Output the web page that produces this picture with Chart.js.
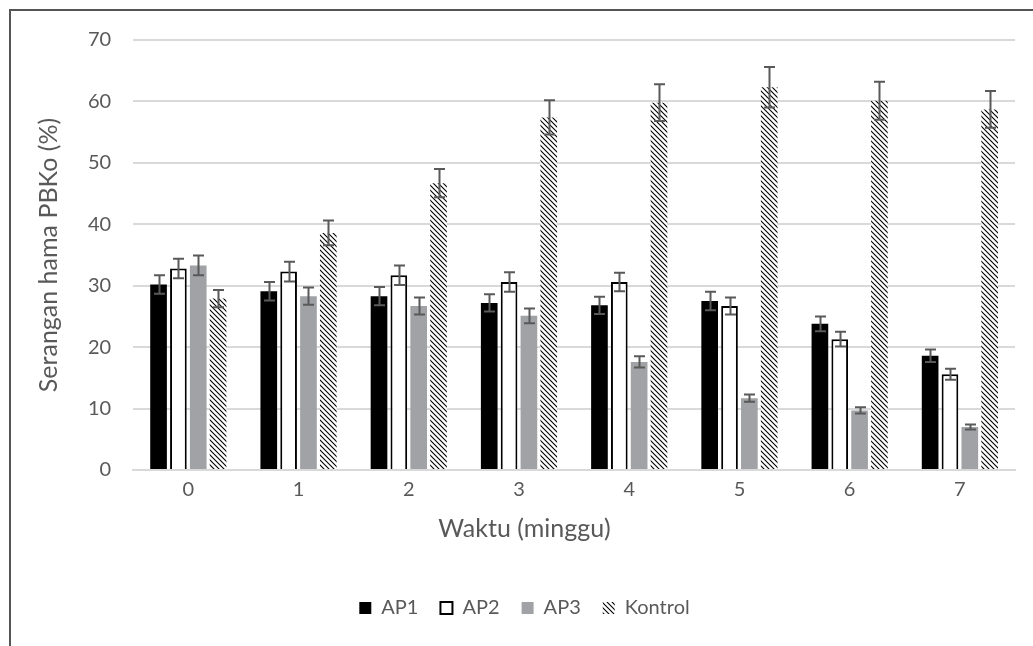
<!DOCTYPE html>
<html>
<head>
<meta charset="utf-8">
<script src="https://cdn.jsdelivr.net/npm/chart.js@4"></script>
<style>
  body { margin: 0; background: #fff; }
  #wrap { position: relative; width: 1033px; height: 646px; }
  #frame {
    position: absolute; left: 9px; top: 9px; right: 0; bottom: 0;
    border-top: 2px solid #555; border-left: 2px solid #555;
    pointer-events: none;
  }
</style>
</head>
<body>
<div id="wrap">
  <canvas id="chart" width="1033" height="646"></canvas>
  <div id="frame"></div>
</div>
<script>
const categories = ["0", "1", "2", "3", "4", "5", "6", "7"];
const seriesNames = ["AP1", "AP2", "AP3", "Kontrol"];
const ap1 = [30.2, 29.1, 28.3, 27.2, 26.8, 27.5, 23.8, 18.6];
const ap1Err = [1.5, 1.5, 1.5, 1.4, 1.4, 1.5, 1.2, 1.0];
const ap2 = [32.8, 32.3, 31.7, 30.6, 30.6, 26.7, 21.3, 15.6];
const ap2Err = [1.6, 1.6, 1.6, 1.6, 1.5, 1.4, 1.2, 0.9];
const ap3 = [33.3, 28.3, 26.7, 25.1, 17.6, 11.7, 9.7, 7.0];
const ap3Err = [1.6, 1.4, 1.4, 1.2, 0.9, 0.6, 0.5, 0.4];
const kontrol = [27.9, 38.6, 46.7, 57.4, 59.8, 62.3, 60.1, 58.7];
const kontrolErr = [1.4, 2.0, 2.3, 2.8, 3.0, 3.3, 3.1, 3.0];
const yTicks = [0, 10, 20, 30, 40, 50, 60, 70];

// diagonal hatch for the control series
function makeHatch() {
  const c = document.createElement("canvas");
  c.width = 5;
  c.height = 5;
  const g = c.getContext("2d");
  g.fillStyle = "#fff";
  g.fillRect(0, 0, 5, 5);
  g.strokeStyle = "#000";
  g.lineWidth = 1.1;
  g.beginPath();
  g.moveTo(-1, -1); g.lineTo(6, 6);
  g.moveTo(-1, 4); g.lineTo(1, 6);
  g.moveTo(4, -1); g.lineTo(6, 1);
  g.stroke();
  return g.createPattern(c, "repeat");
}
const hatch = makeHatch();

// simple error bars drawn on top of the bars
const errorBars = {
  id: "errorBars",
  afterDatasetsDraw(chart) {
    const ctx = chart.ctx;
    const y = chart.scales.y;
    ctx.save();
    ctx.strokeStyle = "#595959";
    ctx.lineWidth = 2;
    chart.data.datasets.forEach((ds, i) => {
      const meta = chart.getDatasetMeta(i);
      meta.data.forEach((bar, j) => {
        const v = ds.data[j];
        const e = ds.errors[j];
        const top = y.getPixelForValue(v + e);
        const bot = y.getPixelForValue(v - e);
        const x = Math.round(bar.x) + 0.5;
        ctx.beginPath();
        ctx.moveTo(x, top); ctx.lineTo(x, bot);
        ctx.moveTo(x - 5.5, top); ctx.lineTo(x + 5.5, top);
        ctx.moveTo(x - 5.5, bot); ctx.lineTo(x + 5.5, bot);
        ctx.stroke();
      });
    });
    ctx.restore();
  }
};

const font = "Lato, 'Open Sans', sans-serif";
const grey = "#595959";

new Chart(document.getElementById("chart"), {
  type: "bar",
  data: {
    labels: categories,
    datasets: [
      { label: seriesNames[0], data: ap1, errors: ap1Err, backgroundColor: "#000", borderWidth: 0 },
      { label: seriesNames[1], data: ap2, errors: ap2Err, backgroundColor: "#fff", borderColor: "#000", borderWidth: 2 },
      { label: seriesNames[2], data: ap3, errors: ap3Err, backgroundColor: "#a0a2a5", borderWidth: 0 },
      { label: seriesNames[3], data: kontrol, errors: kontrolErr, backgroundColor: hatch, borderWidth: 0 }
    ]
  },
  options: {
    responsive: false,
    animation: false,
    categoryPercentage: 0.72,
    barPercentage: 0.84,
    layout: { padding: { left: 34, right: 18, top: 40, bottom: 18 } },
    plugins: {
      tooltip: { enabled: false },
      title: {
        display: true,
        text: "Waktu (minggu)",
        position: "bottom",
        weight: 500,
        color: grey,
        font: { family: font, size: 25, weight: "normal" },
        padding: { top: 4, bottom: 32 }
      },
      legend: {
        position: "bottom",
        labels: {
          color: grey,
          font: { family: font, size: 20 },
          boxWidth: 12,
          boxHeight: 12,
          padding: 22
        }
      }
    },
    scales: {
      x: {
        grid: { display: false, drawTicks: false },
        border: { color: "#d9d9d9", width: 2 },
        ticks: { color: grey, font: { family: font, size: 20 }, padding: 8 }
      },
      y: {
        min: 0,
        max: 70,
        afterBuildTicks: (axis) => { axis.ticks = yTicks.map(v => ({ value: v })); },
        grid: { color: "#d9d9d9", lineWidth: 2, drawTicks: false },
        border: { display: false },
        ticks: { color: grey, font: { family: font, size: 20 }, padding: 22 },
        title: {
          display: true,
          text: "Serangan hama PBKo (%)",
          color: grey,
          font: { family: font, size: 25 },
          padding: { top: 0, bottom: 2 }
        }
      }
    }
  },
  plugins: [errorBars]
});
</script>
</body>
</html>
